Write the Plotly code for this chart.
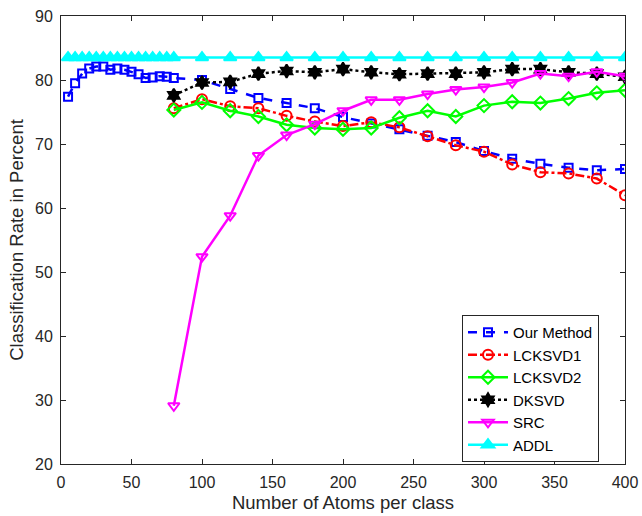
import plotly.graph_objects as go

x_small = [5, 10, 15, 20, 25, 30, 35, 40, 45, 50, 55, 60, 65, 70, 75, 80]
x_large = [100, 120, 140, 160, 180, 200, 220, 240, 260, 280, 300, 320, 340, 360, 380, 400]
x_from80 = [80] + x_large

our_x = x_small + x_large
our_y = [77.4, 79.5, 81.0, 81.8, 82.1, 82.1, 81.6, 81.8, 81.6, 81.3, 80.9, 80.3, 80.4, 80.6, 80.5, 80.3,
         80.0, 78.6, 77.2, 76.4, 75.6, 74.2, 73.2, 72.3, 71.3, 70.3, 68.9, 67.7, 66.9, 66.3, 65.9, 66.1]

lcksvd1_y = [75.6, 77.0, 75.9, 75.6, 74.4, 73.5, 72.8, 73.4, 72.6, 71.2, 69.8, 68.8, 66.8, 65.6, 65.4, 64.6, 62.0]
lcksvd2_y = [75.3, 76.5, 75.2, 74.3, 73.0, 72.5, 72.3, 72.5, 74.1, 75.2, 74.3, 76.0, 76.6, 76.4, 77.1, 78.0, 78.4]
dksvd_y = [77.6, 79.6, 79.7, 81.0, 81.4, 81.2, 81.7, 81.2, 80.9, 81.0, 81.0, 81.2, 81.7, 81.7, 81.2, 81.0, 80.5]
src_y = [29.1, 52.4, 58.8, 68.2, 71.4, 73.1, 75.2, 76.9, 76.9, 77.8, 78.5, 78.9, 79.6, 81.0, 80.6, 81.3, 80.6]
addl_x = x_small + x_large
addl_y = [83.5] * len(addl_x)

fig = go.Figure()

def add(name, x, y, color, dash, symbol, size, width=2.5):
    fig.add_trace(go.Scatter(
        x=x, y=y, name=name, mode="lines+markers",
        line=dict(color=color, width=width, dash=dash),
        marker=dict(symbol=symbol, size=size, color=color,
                    line=dict(color=color, width=2)),
    ))

add("Our Method", our_x, our_y, "#0000FF", "dash", "square-open", 8)
add("LCKSVD1", x_from80, lcksvd1_y, "#FF0000", "dashdot", "circle-open", 10)
add("LCKSVD2", x_from80, lcksvd2_y, "#00FF00", "solid", "diamond-open", 10)
add("DKSVD", x_from80, dksvd_y, "#000000", "dot", "hexagram", 10)
add("SRC", x_from80, src_y, "#FF00FF", "solid", "triangle-down-open", 10)
add("ADDL", addl_x, addl_y, "#00FFFF", "solid", "triangle-up", 11)

axis_common = dict(
    showline=True, linecolor="#262626", linewidth=1, mirror="ticks",
    ticks="inside", ticklen=5, tickcolor="#262626", showgrid=False, zeroline=False,
    tickfont=dict(family="Liberation Sans, Arial", size=16, color="#262626"),
    automargin=False,
)

fig.update_layout(
    width=642, height=516,
    margin=dict(l=61, r=17, t=16, b=52),
    plot_bgcolor="white", paper_bgcolor="white",
    font=dict(family="Liberation Sans, Arial", size=16, color="#262626"),
    xaxis=dict(range=[0, 400], tickvals=[0, 50, 100, 150, 200, 250, 300, 350, 400],
               ticklabelstandoff=4,
               title=dict(text="Number of Atoms per class", standoff=5,
                          font=dict(size=18.5)), **axis_common),
    yaxis=dict(range=[20, 90], tickvals=[20, 30, 40, 50, 60, 70, 80, 90],
               ticklabelstandoff=4,
               title=dict(text="Classification Rate in Percent", standoff=6,
                          font=dict(size=18.5)), **axis_common),
    legend=dict(x=0.711, y=0.3326, xanchor="left", yanchor="top",
                bgcolor="white", bordercolor="#262626", borderwidth=1,
                font=dict(size=15, color="black"), tracegroupgap=0,
                itemwidth=40),
    showlegend=True,
)

fig.write_html("out.html")
